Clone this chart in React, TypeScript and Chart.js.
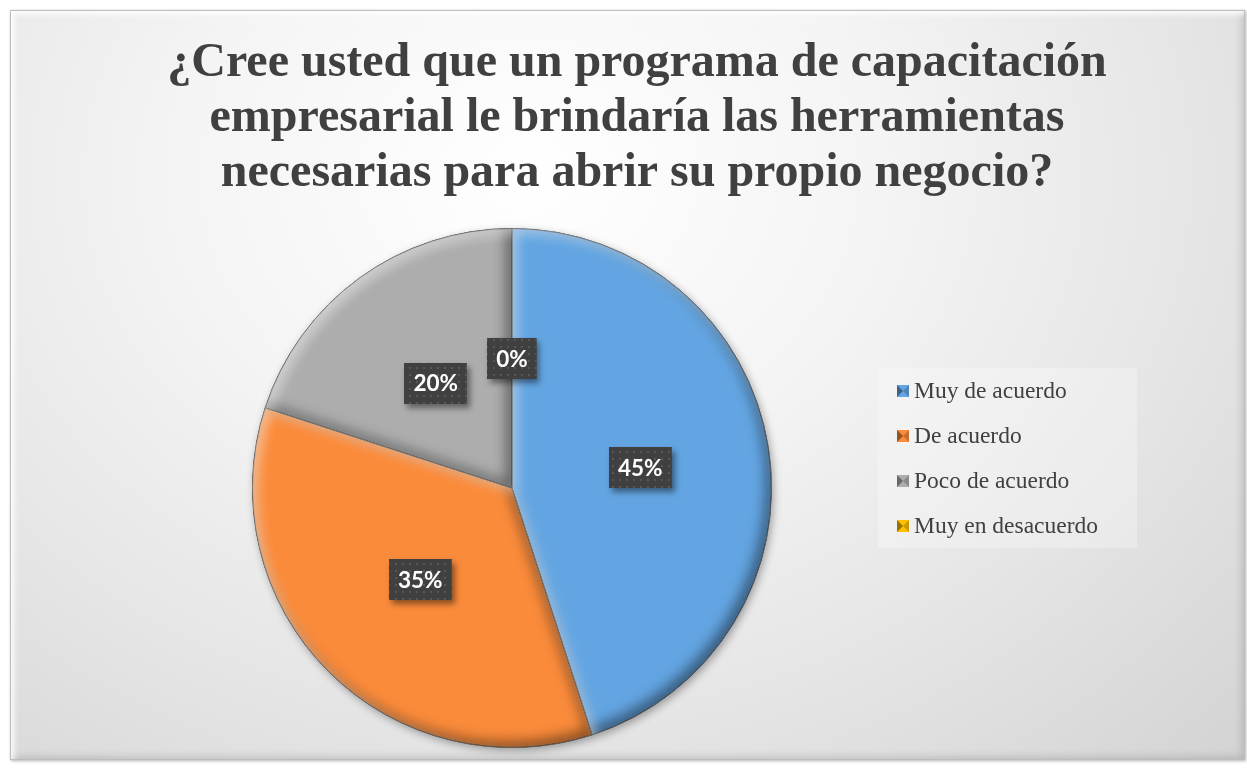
import React, { useEffect, useRef } from 'react';
import { Chart, registerables } from 'chart.js';

Chart.register(...registerables);

const titleLines = [
  '¿Cree usted que un programa de capacitación',
  'empresarial le brindaría las herramientas',
  'necesarias para abrir su propio negocio?',
];
const categories = ['Muy de acuerdo', 'De acuerdo', 'Poco de acuerdo', 'Muy en desacuerdo'];
const percentages = [45, 35, 20, 0];
const sliceColors = ['#63A5E2', '#FA8B3B', '#ADADAD', '#FFC000'];

export default function App() {
  const ref = useRef<HTMLCanvasElement>(null);

  useEffect(() => {
    const canvas = ref.current!;
    const ctx0 = canvas.getContext('2d')!;
    const pc = document.createElement('canvas');
    pc.width = 7;
    pc.height = 7;
    const p = pc.getContext('2d')!;
    p.fillStyle = '#404040';
    p.fillRect(0, 0, 7, 7);
    p.fillStyle = '#575757';
    p.fillRect(3, 3, 2, 2);
    const pattern = ctx0.createPattern(pc, 'repeat');

    const shadowPlugin = {
      id: 'pieShadow',
      beforeDatasetsDraw(chart: any) {
        const arc = chart.getDatasetMeta(0).data[0];
        if (!arc) return;
        const { x, y, outerRadius } = arc.getProps(['x', 'y', 'outerRadius'], true);
        const ctx = chart.ctx;
        ctx.save();
        ctx.shadowColor = 'rgba(0,0,0,0.35)';
        ctx.shadowBlur = 9;
        ctx.shadowOffsetX = 2;
        ctx.shadowOffsetY = 3;
        ctx.fillStyle = '#777';
        ctx.beginPath();
        ctx.arc(x, y, outerRadius, 0, Math.PI * 2);
        ctx.fill();
        ctx.restore();
      },
    };

    const bevelPlugin = {
      id: 'pieBevel',
      afterDatasetsDraw(chart: any) {
        const ctx = chart.ctx;
        chart.getDatasetMeta(0).data.forEach((arc: any) => {
          const { x, y, startAngle, endAngle, outerRadius } = arc.getProps(
            ['x', 'y', 'startAngle', 'endAngle', 'outerRadius'],
            true
          );
          if (endAngle - startAngle < 1e-6) return;
          const passes: [string, number, number, number][] = [
            ['rgba(0,0,0,0.7)', -5, -5, 14],
            ['rgba(255,255,255,0.7)', 5, 5, 12],
          ];
          passes.forEach(([col, dx, dy, blur]) => {
            ctx.save();
            ctx.beginPath();
            ctx.moveTo(x, y);
            ctx.arc(x, y, outerRadius, startAngle, endAngle);
            ctx.closePath();
            ctx.clip();
            ctx.beginPath();
            ctx.rect(x - outerRadius * 2, y - outerRadius * 2, outerRadius * 4, outerRadius * 4);
            ctx.moveTo(x, y);
            ctx.arc(x, y, outerRadius, startAngle, endAngle);
            ctx.closePath();
            ctx.shadowColor = col;
            ctx.shadowBlur = blur;
            ctx.shadowOffsetX = dx;
            ctx.shadowOffsetY = dy;
            ctx.fillStyle = col;
            ctx.fill('evenodd');
            ctx.restore();
          });
        });
      },
    };

    const labelPlugin = {
      id: 'boxLabels',
      afterDatasetsDraw(chart: any) {
        const ctx = chart.ctx;
        const ds = chart.data.datasets[0];
        chart.getDatasetMeta(0).data.forEach((arc: any, i: number) => {
          const pos = arc.tooltipPosition(true);
          const text = ds.data[i] + '%';
          ctx.save();
          ctx.font = 'bold 22.5px Lato, "Open Sans", sans-serif';
          const w = ctx.measureText(text).width + 18;
          const h = 41;
          const bx = Math.round(pos.x - w / 2);
          const by = Math.round(pos.y - h / 2);
          ctx.shadowColor = 'rgba(0,0,0,0.45)';
          ctx.shadowBlur = 6;
          ctx.shadowOffsetX = 3;
          ctx.shadowOffsetY = 4;
          ctx.fillStyle = '#404040';
          ctx.fillRect(bx, by, w, h);
          ctx.shadowColor = 'transparent';
          ctx.fillStyle = pattern || '#404040';
          ctx.fillRect(bx, by, w, h);
          ctx.fillStyle = '#ffffff';
          ctx.textAlign = 'center';
          ctx.textBaseline = 'middle';
          ctx.fillText(text, pos.x, pos.y + 1);
          ctx.restore();
        });
      },
    };

    const legendPlugin = {
      id: 'sideLegend',
      afterDraw(chart: any) {
        const ctx = chart.ctx;
        const labels = chart.data.labels as string[];
        const colors = chart.data.datasets[0].backgroundColor as string[];
        ctx.save();
        ctx.fillStyle = 'rgba(255,255,255,0.28)';
        ctx.fillRect(878, 368, 259, 180);
        labels.forEach((lab, i) => {
          const base = 398 + i * 45;
          const sx = 897;
          const sy = base - 13;
          ctx.fillStyle = colors[i];
          ctx.fillRect(sx, sy, 12, 12);
          ctx.fillStyle = 'rgba(0,0,0,0.4)';
          ctx.beginPath();
          ctx.moveTo(sx, sy);
          ctx.lineTo(sx + 6, sy + 6);
          ctx.lineTo(sx, sy + 12);
          ctx.closePath();
          ctx.fill();
          ctx.fillStyle = 'rgba(0,0,0,0.2)';
          ctx.beginPath();
          ctx.moveTo(sx + 12, sy);
          ctx.lineTo(sx + 6, sy + 6);
          ctx.lineTo(sx + 12, sy + 12);
          ctx.closePath();
          ctx.fill();
          ctx.fillStyle = '#404040';
          ctx.font = '23.5px "Liberation Serif", "Times New Roman", serif';
          ctx.textAlign = 'left';
          ctx.textBaseline = 'alphabetic';
          ctx.fillText(lab, 914, base);
        });
        ctx.restore();
      },
    };

    const titlePlugin = {
      id: 'bigTitle',
      afterDraw(chart: any) {
        const ctx = chart.ctx;
        ctx.save();
        ctx.fillStyle = '#404040';
        ctx.font = 'bold 48px "Liberation Serif", "Times New Roman", serif';
        ctx.textAlign = 'center';
        ctx.textBaseline = 'alphabetic';
        titleLines.forEach((line, i) => {
          ctx.fillText(line, 637, 76 + i * 55);
        });
        ctx.restore();
      },
    };

    const chart = new Chart(canvas, {
      type: 'pie',
      data: {
        labels: categories,
        datasets: [
          {
            data: percentages,
            backgroundColor: sliceColors,
            borderColor: 'rgba(30,30,30,0.75)',
            borderWidth: 1,
            hoverOffset: 0,
          },
        ],
      },
      options: {
        responsive: false,
        animation: false,
        events: [],
        layout: { padding: { left: 252, right: 475, top: 228, bottom: 21 } },
        plugins: {
          legend: { display: false },
          title: { display: false },
          tooltip: { enabled: false },
        },
      },
      plugins: [shadowPlugin, bevelPlugin, labelPlugin, legendPlugin, titlePlugin],
    } as any);

    return () => chart.destroy();
  }, []);

  return (
    <>
      <div
        style={{
          position: 'absolute',
          left: 10,
          top: 10,
          width: 1235,
          height: 750,
          boxSizing: 'border-box',
          border: '1px solid #bdbdbd',
          background:
            'radial-gradient(ellipse at 42% 22%, #ffffff 0%, #f4f4f4 35%, #e6e6e6 65%, #d3d3d3 100%)',
          boxShadow:
            'inset 7px 7px 6px -4px rgba(255,255,255,0.95), inset -6px -6px 8px -4px rgba(0,0,0,0.15), 1px 1px 3px rgba(0,0,0,0.3)',
        }}
      />
      <canvas
        ref={ref}
        width={1247}
        height={769}
        style={{ position: 'absolute', left: 0, top: 0, width: 1247, height: 769 }}
      />
    </>
  );
}
